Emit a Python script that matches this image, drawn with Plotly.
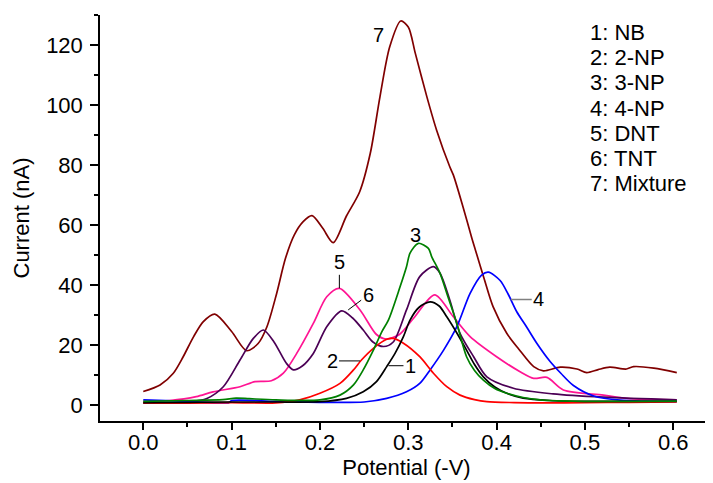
import plotly.graph_objects as go

# ---------------- data ----------------
nb_x = [0, 0.05, 0.1, 0.15, 0.2, 0.23, 0.249, 0.264, 0.2756, 0.285, 0.2945, 0.302, 0.312, 0.3247,
        0.335, 0.3436, 0.355, 0.366, 0.375, 0.385, 0.398, 0.4115, 0.43, 0.46, 0.5, 0.55, 0.604]
nb_y = [0.8, 0.9, 1.0, 1.0, 1.1, 2.2, 4.4, 7.8, 12.8, 17.2, 22.8, 28.3, 32.5, 34.4,
        33.0, 29.4, 24.0, 18.3, 13.5, 9.4, 6.0, 3.9, 2.3, 1.5, 1.2, 1.2, 1.2]

np2_x = [0, 0.05, 0.1, 0.15, 0.177, 0.2, 0.2227, 0.238, 0.247, 0.2605, 0.2756, 0.283, 0.2945,
         0.313, 0.3285, 0.3436, 0.3586, 0.375, 0.389, 0.42, 0.45, 0.5, 0.55, 0.604]
np2_y = [0.7, 0.6, 0.8, 0.7, 1.7, 3.9, 7.2, 11.7, 15.0, 18.9, 21.9, 22.2, 20.6,
         16.1, 10.6, 6.1, 3.3, 1.8, 1.1, 0.8, 0.7, 0.8, 0.9, 1.0]

np3_x = [0, 0.05, 0.09, 0.105, 0.12, 0.15, 0.2, 0.2227, 0.238, 0.249, 0.2605, 0.27, 0.2775, 0.2907,
         0.298, 0.302, 0.3115, 0.3228, 0.3266, 0.336, 0.345, 0.355, 0.366, 0.375, 0.385, 0.398,
         0.4115, 0.43, 0.449, 0.47, 0.5, 0.55, 0.604]
np3_y = [1.2, 1.5, 1.8, 2.3, 2.1, 1.7, 1.7, 3.3, 6.7, 11.7, 18.3, 24.4, 28.3, 39.4,
         46.1, 50.6, 53.9, 52.2, 49.4, 43.9, 36.0, 27.2, 16.1, 11.5, 8.3, 5.5,
         3.9, 2.5, 1.7, 1.4, 1.2, 1.2, 1.3]

np4_x = [0, 0.05, 0.097, 0.1, 0.15, 0.2, 0.25, 0.2756, 0.298, 0.313, 0.3247, 0.34, 0.355, 0.370,
         0.383, 0.3907, 0.404, 0.413, 0.423, 0.434, 0.4455, 0.4606, 0.473, 0.487, 0.51, 0.54,
         0.57, 0.604]
np4_y = [1.7, 1.2, 0.8, 1.5, 1.2, 0.9, 1.0, 2.2, 4.4, 7.2, 11.7, 18.3, 26.1, 37.2,
         43.3, 44.3, 41.5, 37.0, 31.0, 26.0, 20.6, 14.5, 10.5, 6.5, 3.0, 1.6,
         1.3, 1.2]

dnt_x = [0, 0.03, 0.06, 0.079, 0.1095, 0.1265, 0.145, 0.1586, 0.1737, 0.1925, 0.2077, 0.222,
         0.2454, 0.264, 0.275, 0.29, 0.306, 0.330, 0.351, 0.370, 0.400, 0.4266, 0.442, 0.457,
         0.4756, 0.521, 0.547, 0.604]
dnt_y = [1.1, 1.5, 2.8, 4.4, 6.1, 7.8, 8.1, 10.6, 17.2, 27.2, 36.1, 38.9,
         31.7, 23.5, 22.0, 23.5, 28.9, 36.7, 29.4, 22.8, 16.1, 11.1, 8.9, 9.2,
         5.0, 3.3, 2.2, 1.7]

tnt_x = [0, 0.03, 0.05, 0.072, 0.0906, 0.1095, 0.1246, 0.136, 0.148, 0.162, 0.17, 0.18, 0.1925,
         0.2077, 0.2247, 0.237, 0.249, 0.26, 0.272, 0.283, 0.298, 0.313, 0.3285, 0.336, 0.347,
         0.3586, 0.374, 0.389, 0.419, 0.464, 0.521, 0.604]
tnt_y = [0.6, 0.7, 1.0, 2.2, 6.1, 15.0, 22.2, 25.0, 21.0, 13.9, 11.7, 13.0, 17.2,
         26.1, 31.4, 29.0, 25.0, 21.0, 19.5, 21.0, 31.7, 42.8, 46.1, 43.9, 35.0,
         23.9, 16.1, 9.4, 5.6, 3.7, 2.6, 1.7]

mix_x = [0, 0.019, 0.034, 0.045, 0.057, 0.068, 0.081, 0.1, 0.117, 0.13, 0.14, 0.151, 0.161, 0.171,
         0.181, 0.191, 0.203, 0.215, 0.23, 0.245, 0.257, 0.268, 0.279, 0.2915, 0.3, 0.308, 0.321,
         0.332, 0.347, 0.351, 0.362, 0.372, 0.376, 0.386, 0.396, 0.4115, 0.425, 0.442, 0.453,
         0.472, 0.491, 0.502, 0.515, 0.528, 0.547, 0.555, 0.578, 0.604]
mix_y = [4.5, 6.7, 10.6, 16.0, 22.8, 27.8, 30.3, 24.5, 18.1, 20.5, 26.1, 37.2, 48.9, 56.7,
         61.1, 63.1, 59.0, 54.1, 63.0, 71.1, 83.9, 102.8, 119.4, 128.0, 126.0, 117.2, 102.8,
         91.7, 79.4, 76.7, 66.0, 55.6, 51.7, 42.0, 32.8, 23.9, 18.7, 12.8, 11.4,
         12.6, 12.0, 10.8, 11.8, 12.6, 12.0, 12.8, 12.3, 10.8]

series_names = ["NB", "2-NP", "3-NP", "4-NP", "DNT", "TNT", "Mixture"]
series_colors = ["#000000", "#FF0000", "#008000", "#0000FF", "#FF1493", "#4B0055", "#800000"]
x_ticks = [0.0, 0.1, 0.2, 0.3, 0.4, 0.5, 0.6]
y_ticks = [0, 20, 40, 60, 80, 100, 120]

xs = [nb_x, np2_x, np3_x, np4_x, dnt_x, tnt_x, mix_x]
ys = [nb_y, np2_y, np3_y, np4_y, dnt_y, tnt_y, mix_y]

FONT = "Arial, Liberation Sans, sans-serif"

fig = go.Figure()
order = [6, 4, 5, 3, 1, 0, 2]
for i in order:
    fig.add_trace(go.Scatter(
        x=xs[i], y=ys[i], mode="lines", name=series_names[i],
        line=dict(color=series_colors[i], width=1.7, shape="spline", smoothing=0.8),
        showlegend=False))

lab_font = dict(family=FONT, size=20, color="black")
ann = []
ann.append(dict(x=0.266, y=123.3, text="7", showarrow=False, font=lab_font))
ann.append(dict(x=0.3077, y=56.7, text="3", showarrow=False, font=lab_font))
ann.append(dict(x=0.222, y=38.9, text="5", showarrow=True, arrowhead=0, arrowwidth=1,
                arrowcolor="black", ax=0, ay=-26, standoff=0, font=lab_font))
ann.append(dict(x=0.232, y=31.7, text="6", showarrow=True, arrowhead=0, arrowwidth=1,
                arrowcolor="black", ax=20, ay=-15, standoff=0, font=lab_font))
ann.append(dict(x=0.2454, y=14.7, text="2", showarrow=True, arrowhead=0, arrowwidth=1,
                arrowcolor="black", ax=-28, ay=0, standoff=0, font=lab_font))
ann.append(dict(x=0.2776, y=13.1, text="1", showarrow=True, arrowhead=0, arrowwidth=1,
                arrowcolor="black", ax=22, ay=0, standoff=0, font=lab_font))
ann.append(dict(x=0.416, y=35.2, text="4", showarrow=True, arrowhead=0, arrowwidth=1.5,
                arrowcolor="#808080", ax=28, ay=0, standoff=0, font=lab_font))

# key text (one line per series, as in the reference)
for k, n in enumerate(series_names):
    ann.append(dict(x=0.5036, y=124.1 - 8.37 * k, xanchor="left", yanchor="middle",
                    text=f"{k + 1}: {n}", showarrow=False,
                    font=dict(family=FONT, size=22, color="black")))

fig.update_layout(
    width=705, height=475,
    margin=dict(l=92, r=0, t=7, b=62),
    paper_bgcolor="white", plot_bgcolor="white",
    font=dict(family=FONT, size=22, color="black"),
    annotations=ann,
)
fig.update_xaxes(
    range=[-0.049, 0.645], tickvals=x_ticks, ticktext=[f"{v:.1f}" for v in x_ticks],
    ticks="outside", ticklen=7, tickwidth=1.5, tickcolor="black",
    minor=dict(ticks="outside", ticklen=4, tickwidth=1.5, tickcolor="black", dtick=0.05, tick0=0),
    showline=True, linecolor="black", linewidth=1.5, showgrid=False, zeroline=False,
    ticklabelstandoff=-6,
    tickfont=dict(family=FONT, size=22),
    title=dict(text="Potential (-V)", font=dict(family=FONT, size=22), standoff=0),
    automargin=False,
)
fig.update_yaxes(
    range=[-5.33, 130], tickvals=y_ticks,
    ticks="outside", ticklen=8, tickwidth=1.5, tickcolor="black",
    minor=dict(ticks="outside", ticklen=4, tickwidth=1.5, tickcolor="black", dtick=10, tick0=0),
    showline=True, linecolor="black", linewidth=1.5, showgrid=False, zeroline=False,
    ticklabelstandoff=3,
    tickfont=dict(family=FONT, size=22),
    title=dict(text="Current (nA)", font=dict(family=FONT, size=22), standoff=10),
    automargin=False,
)

fig.write_html("out.html")
